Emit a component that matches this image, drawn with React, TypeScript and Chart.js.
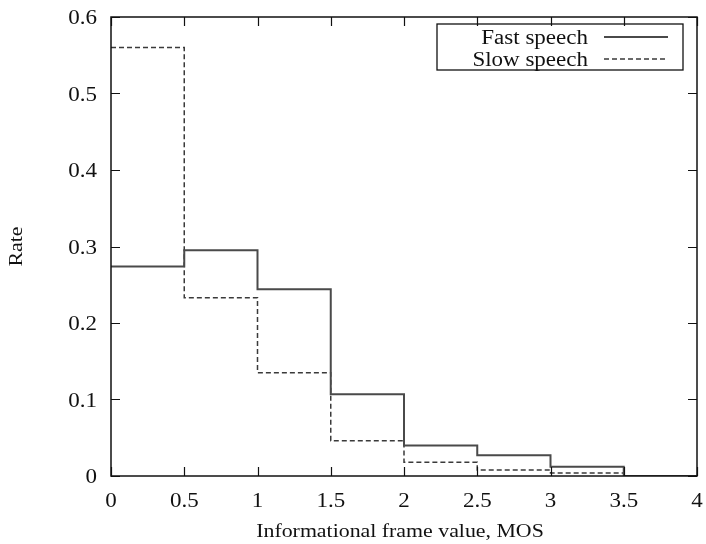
import React, { useEffect, useRef } from "react";
import { Chart, registerables } from "chart.js";

Chart.register(...registerables);

// Bin left edges on the MOS axis (each bin is 0.5 wide, last one ends at 4)
const binStarts = [0, 0.5, 1, 1.5, 2, 2.5, 3, 3.5];
const binEnd = 4;

const fastSpeech = [0.274, 0.295, 0.244, 0.107, 0.04, 0.027, 0.012, 0];
const slowSpeech = [0.56, 0.233, 0.135, 0.046, 0.018, 0.008, 0.004, 0];

const seriesLabels = ["Fast speech", "Slow speech"];

const xTickLabels = ["0", "0.5", "1", "1.5", "2", "2.5", "3", "3.5", "4"];
const yTickLabels = ["0", "0.1", "0.2", "0.3", "0.4", "0.5", "0.6"];

const xTitle = "Informational frame value, MOS";
const yTitle = "Rate";

const FONT = "'Liberation Serif', 'DejaVu Serif', serif";
const INK = "#111";
const STRETCH = 1.15; // wide-set lettering

// histogram steps: a point at every bin start plus one closing point at the end
const toSteps = (vals: number[]) =>
  binStarts
    .map((x, i) => ({ x, y: vals[i] }))
    .concat([{ x: binEnd, y: vals[vals.length - 1] }]);

// draws text horizontally widened by STRETCH, anchored at (x, y)
function wideText(
  ctx: CanvasRenderingContext2D,
  text: string,
  x: number,
  y: number,
  align: CanvasTextAlign,
  rotate = 0
) {
  ctx.save();
  ctx.translate(x, y);
  if (rotate) ctx.rotate(rotate);
  ctx.scale(STRETCH, 1);
  ctx.textAlign = align;
  ctx.textBaseline = "alphabetic";
  ctx.fillText(text, 0, 0);
  ctx.restore();
}

// frame, inward tick marks on all four sides, tick labels, titles and the boxed key
const framePlugin = {
  id: "frame",
  afterDatasetsDraw(chart: any) {
    const { ctx, chartArea: a, scales } = chart;
    const xs = scales.x;
    const ys = scales.y;
    const len = 9;
    ctx.save();
    ctx.strokeStyle = INK;
    ctx.lineWidth = 1.2;
    ctx.beginPath();
    xs.ticks.forEach((t: any) => {
      const px = Math.round(xs.getPixelForValue(t.value)) + 0.5;
      ctx.moveTo(px, a.bottom);
      ctx.lineTo(px, a.bottom - len);
      ctx.moveTo(px, a.top);
      ctx.lineTo(px, a.top + len);
    });
    ys.ticks.forEach((t: any) => {
      const py = Math.round(ys.getPixelForValue(t.value)) + 0.5;
      ctx.moveTo(a.left, py);
      ctx.lineTo(a.left + len, py);
      ctx.moveTo(a.right, py);
      ctx.lineTo(a.right - len, py);
    });
    ctx.stroke();

    ctx.lineWidth = 1.5;
    ctx.strokeRect(a.left, a.top, a.right - a.left, a.bottom - a.top);

    ctx.fillStyle = INK;
    ctx.font = `20px ${FONT}`;
    // tick labels
    xs.ticks.forEach((t: any, i: number) => {
      wideText(ctx, xTickLabels[i], xs.getPixelForValue(t.value), a.bottom + 31, "center");
    });
    ys.ticks.forEach((t: any, i: number) => {
      wideText(ctx, yTickLabels[i], a.left - 14, ys.getPixelForValue(t.value) + 7, "right");
    });
    // axis titles
    ctx.font = `19px ${FONT}`;
    wideText(ctx, xTitle, (a.left + a.right) / 2 - 4, a.bottom + 61, "center");
    wideText(ctx, yTitle, 22, (a.top + a.bottom) / 2, "center", -Math.PI / 2);

    // key box
    const boxL = a.right - 260;
    const boxR = a.right - 14;
    const boxT = a.top + 7;
    const boxB = a.top + 53;
    ctx.lineWidth = 1.3;
    ctx.strokeRect(boxL, boxT, boxR - boxL, boxB - boxT);
    ctx.font = `20px ${FONT}`;
    chart.data.datasets.forEach((ds: any, i: number) => {
      const cy = a.top + 20 + i * 22;
      wideText(ctx, ds.label, boxR - 95, cy + 7, "right");
      ctx.save();
      ctx.strokeStyle = ds.borderColor;
      ctx.lineWidth = ds.borderWidth;
      ctx.setLineDash(ds.borderDash || []);
      ctx.beginPath();
      ctx.moveTo(boxR - 79, cy);
      ctx.lineTo(boxR - 15, cy);
      ctx.stroke();
      ctx.restore();
    });
    ctx.restore();
  },
};

const noPad = (s: any) => {
  s.paddingLeft = 0;
  s.paddingRight = 0;
  s.paddingTop = 0;
  s.paddingBottom = 0;
};

export default function App() {
  const ref = useRef<HTMLCanvasElement>(null);

  useEffect(() => {
    document.body.style.margin = "0";
    const chart = new Chart(ref.current as HTMLCanvasElement, {
      type: "line",
      data: {
        datasets: [
          {
            label: seriesLabels[0],
            data: toSteps(fastSpeech),
            stepped: "before",
            borderColor: "#4a4a4a",
            borderWidth: 2,
            pointRadius: 0,
            fill: false,
          },
          {
            label: seriesLabels[1],
            data: toSteps(slowSpeech),
            stepped: "before",
            borderColor: "#3a3a3a",
            borderWidth: 1.5,
            borderDash: [5, 3],
            pointRadius: 0,
            fill: false,
          },
        ],
      },
      options: {
        responsive: false,
        animation: false,
        devicePixelRatio: 1,
        layout: { padding: { top: 17, right: 9, left: 0, bottom: 0 } },
        plugins: {
          legend: { display: false },
          tooltip: { enabled: false },
        },
        scales: {
          x: {
            type: "linear",
            min: 0,
            max: 4,
            afterFit: (s: any) => {
              s.height = 68;
              noPad(s);
            },
            afterBuildTicks: (s: any) => {
              s.ticks = xTickLabels.map((l) => ({ value: parseFloat(l) }));
            },
            ticks: { display: false },
            grid: { display: false, drawTicks: false },
            border: { display: false },
          },
          y: {
            type: "linear",
            min: 0,
            max: 0.6,
            afterFit: (s: any) => {
              s.width = 111;
              noPad(s);
            },
            afterBuildTicks: (s: any) => {
              s.ticks = yTickLabels.map((l) => ({ value: parseFloat(l) }));
            },
            ticks: { display: false },
            grid: { display: false, drawTicks: false },
            border: { display: false },
          },
        },
      },
      plugins: [framePlugin],
    });
    return () => chart.destroy();
  }, []);

  return (
    <div style={{ position: "absolute", left: 0, top: 0, width: 706, height: 544, background: "#fff" }}>
      <canvas ref={ref} width={706} height={544} />
    </div>
  );
}
